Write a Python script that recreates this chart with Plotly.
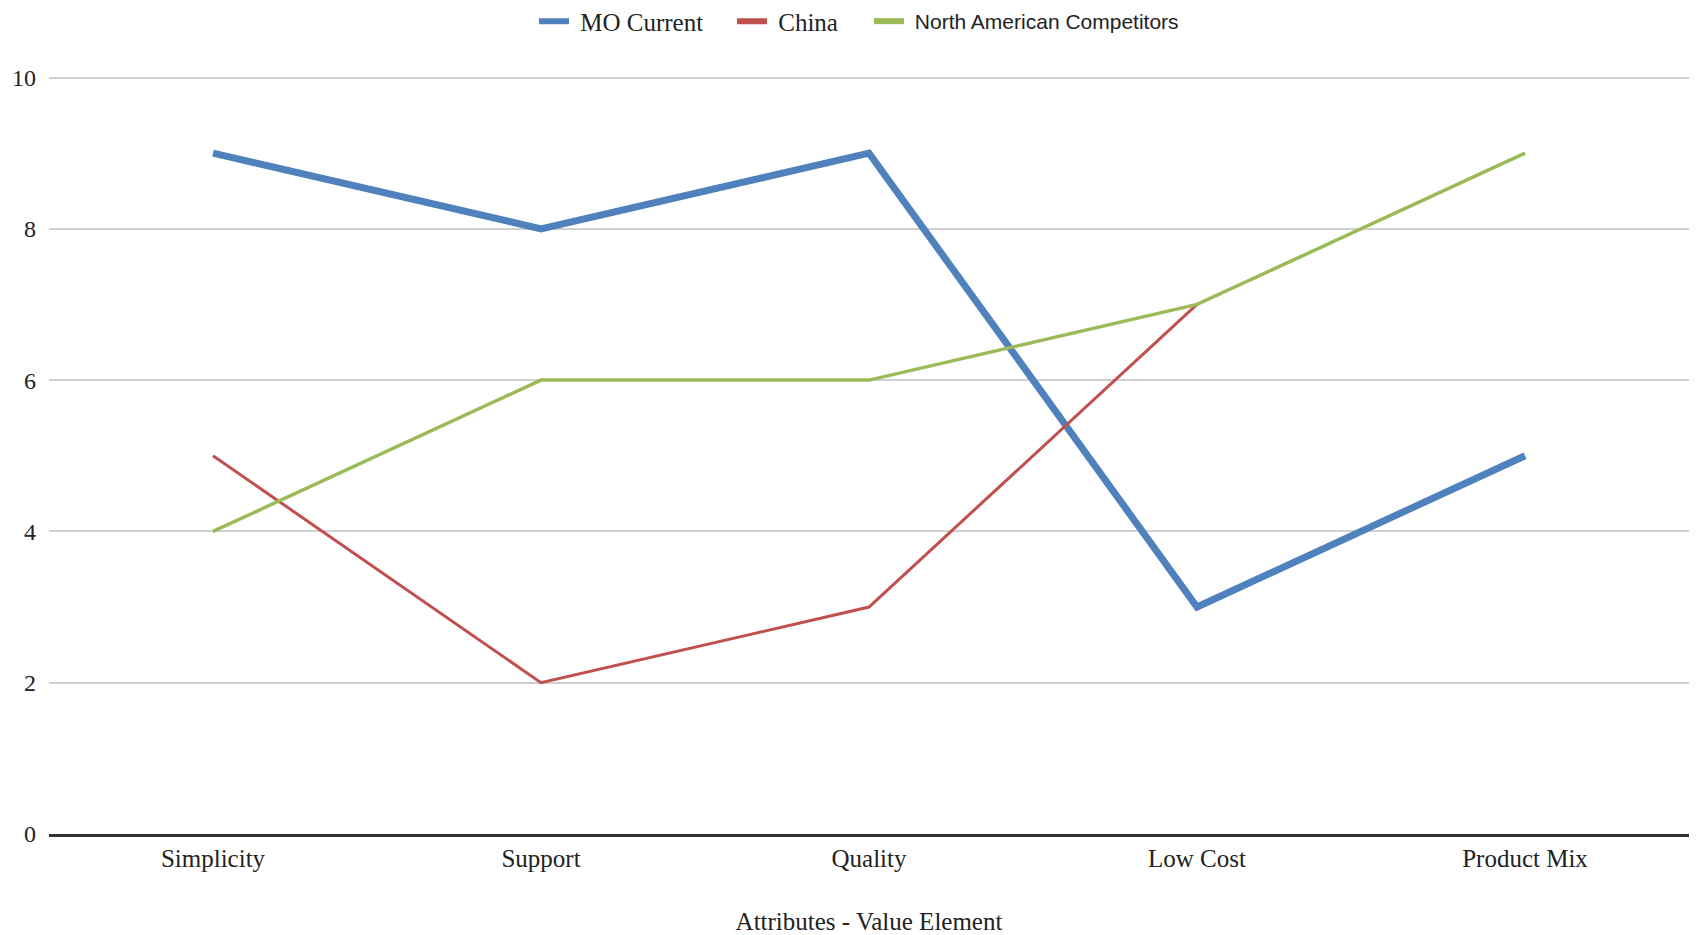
import plotly.graph_objects as go

categories = ["Simplicity", "Support", "Quality", "Low Cost", "Product Mix"]
mo_current = [9, 8, 9, 3, 5]
china = [5, 2, 3, 7, None]
north_american = [4, 6, 6, 7, 9]
y_ticks = [0, 2, 4, 6, 8, 10]

BLUE = "#4F81BD"
RED = "#C0504D"
GREEN = "#9BBB59"
SERIF = "Liberation Serif, Times New Roman, serif"
SANS = "Liberation Sans, Arial, sans-serif"

fig = go.Figure()
fig.add_trace(go.Scatter(x=categories, y=mo_current, mode="lines", name="MO Current",
                         line=dict(color=BLUE, width=7), showlegend=False))
fig.add_trace(go.Scatter(x=categories, y=china, mode="lines", name="China",
                         line=dict(color=RED, width=3), showlegend=False))
fig.add_trace(go.Scatter(x=categories, y=north_american, mode="lines", name="North American Competitors",
                         line=dict(color=GREEN, width=3.5), showlegend=False))

nb = "\u00a0"
legend_entries = [
    ("legend", nb + "MO Current", BLUE, SERIF, 25, 526),
    ("legend2", nb + "China", RED, SERIF, 25, 724),
    ("legend3", nb + "North American Competitors", GREEN, SANS, 21, 861),
]

T, B, L, R = 68, 109, 41, 19
W, H = 1700, 935
plot_h = H - T - B
legend_y = 1 + (T - 13.5) / plot_h

layout_legends = {}
for key, nm, col, fam, sz, left_px in legend_entries:
    fig.add_trace(go.Scatter(x=[None], y=[None], mode="lines", name=nm, legend=key,
                             line=dict(color=col, width=6)))
    layout_legends[key] = dict(orientation="h", x=left_px / W, xanchor="left", xref="container",
                               y=legend_y, yref="paper", yanchor="middle",
                               font=dict(family=fam, size=sz, color="#222222"),
                               itemwidth=30, bgcolor="rgba(0,0,0,0)")

fig.update_layout(
    width=W, height=H,
    margin=dict(l=L, r=R, t=T, b=B, autoexpand=False),
    paper_bgcolor="white", plot_bgcolor="white",
    font=dict(family=SERIF, size=25, color="#222222"),
    xaxis=dict(type="category", categoryorder="array", categoryarray=categories,
               range=[-0.5, 4.5], showgrid=False, zeroline=False,
               showline=True, linecolor="#333333", linewidth=2.5,
               ticks="", ticklabelstandoff=0,
               tickfont=dict(family=SERIF, size=25, color="#222222"),
               title=dict(text="Attributes - Value Element", standoff=42,
                          font=dict(family=SERIF, size=25, color="#222222"))),
    yaxis=dict(range=[0, 10.02], tickvals=y_ticks, showgrid=True, gridcolor="#D0D0D0",
               gridwidth=1.5, zeroline=False, showline=False, ticks="",
               ticklabelstandoff=12,
               tickfont=dict(family=SERIF, size=24, color="#222222")),
    **layout_legends,
)

fig.write_html("out.html")
